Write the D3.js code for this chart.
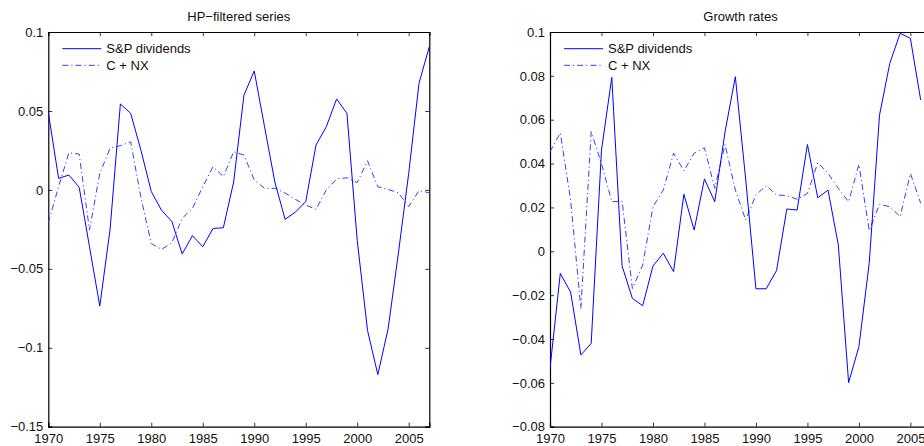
<!DOCTYPE html>
<html><head><meta charset="utf-8">
<script src="https://cdn.jsdelivr.net/npm/d3@7"></script>
<style>body{margin:0;background:#fff;}svg{display:block;font-family:"Liberation Sans",Arial,Helvetica,sans-serif;}</style>
</head><body><svg id="c" width="924" height="446"></svg>
<script>
const yearsHP = d3.range(1970, 2008);
const hpDividends = [0.049,0.0073,0.0094,0.0016,-0.036,-0.0736,-0.025,0.0544,0.0485,0.025,-0.001,-0.013,-0.020,-0.0406,-0.029,-0.036,-0.0244,-0.024,0.005,0.060,0.0753,0.040,0.005,-0.0187,-0.014,-0.0075,0.0284,0.040,0.0576,0.0485,-0.032,-0.089,-0.117,-0.088,-0.040,0.0105,0.0675,0.0907];
const hpCNX = [-0.0208,0.002,0.0235,0.0227,-0.0254,0.0105,0.0263,0.028,0.0305,-0.005,-0.034,-0.0377,-0.0335,-0.018,-0.0117,0.002,0.0147,0.0084,0.0242,0.022,0.0063,0.001,0.001,-0.002,-0.006,-0.0096,-0.0123,0.0,0.0069,0.0077,0.0046,0.0185,0.002,0.0003,-0.0018,-0.0106,-0.0005,-0.0018];
const yearsGR = d3.range(1970, 2007);
const grDividends = [-0.0534,-0.0101,-0.0186,-0.0473,-0.042,0.0461,0.0793,-0.0067,-0.0215,-0.0248,-0.0067,-0.0009,-0.0093,0.026,0.0097,0.033,0.0226,0.0545,0.0796,0.033,-0.0171,-0.0171,-0.0088,0.0193,0.0188,0.0487,0.0244,0.0279,0.0029,-0.0599,-0.0435,-0.0055,0.0621,0.0857,0.0994,0.0971,0.069];
const grCNX = [0.0454,0.054,0.0234,-0.026,0.0545,0.040,0.0226,0.0229,-0.017,-0.0063,0.0203,0.0279,0.0447,0.0367,0.0447,0.0472,0.0287,0.0487,0.0279,0.0143,0.0257,0.0299,0.0257,0.0254,0.0237,0.0264,0.0404,0.0355,0.0287,0.0226,0.0396,0.0094,0.0214,0.0203,0.0158,0.0355,0.0219];
const xTicks = [1970,1975,1980,1985,1990,1995,2000,2005];
const hpYTicks = [0.1,0.05,0,-0.05,-0.1,-0.15];
const grYTicks = [0.1,0.08,0.06,0.04,0.02,0,-0.02,-0.04,-0.06,-0.08];
const legendLabels = ["S&P dividends","C + NX"];
const titles = ["HP\u2212filtered series","Growth rates"];

const svg = d3.select("#c");
const fmt = v => (v < 0 ? "\u2212" : "") + String(+Math.abs(v).toFixed(3));
const FS = "13px";

function panel(left, title, years, s1, s2, yDomain, yTicks, id) {
  const top = 32, bottom = 426.7, right = left + 381;
  const x = d3.scaleLinear().domain([1970, 2007]).range([left, right]);
  const y = d3.scaleLinear().domain(yDomain).range([bottom, top]);
  const g = svg.append("g");
  g.append("clipPath").attr("id", id).append("rect")
    .attr("x", left).attr("y", top).attr("width", right - left).attr("height", bottom - top);
  const ax = g.append("g").attr("transform", `translate(0,${bottom})`)
    .call(d3.axisBottom(x).tickValues(xTicks).tickFormat(d3.format("d")).tickSize(-4));
  const axT = g.append("g").attr("transform", `translate(0,${top})`)
    .call(d3.axisTop(x).tickValues(xTicks).tickFormat("").tickSize(-4));
  const ay = g.append("g").attr("transform", `translate(${left},0)`)
    .call(d3.axisLeft(y).tickValues(yTicks).tickFormat(fmt).tickSize(-4).tickPadding(5));
  const ayR = g.append("g").attr("transform", `translate(${right},0)`)
    .call(d3.axisRight(y).tickValues(yTicks).tickFormat("").tickSize(-4));
  [ax, axT, ay, ayR].forEach(a => {
    a.selectAll(".domain").attr("stroke", "#000").attr("stroke-width", 1.2);
    a.selectAll(".tick line").attr("stroke", "#000").attr("stroke-width", 0.8);
    a.selectAll("text").attr("fill", "#111").style("font-size", FS);
  });
  ax.selectAll("text").attr("y", 16.3).attr("dy", null);
  g.append("text").attr("x", (left + right) / 2).attr("y", 21).attr("text-anchor", "middle")
    .style("font-size", FS).attr("fill", "#111").text(title);
  const line = d3.line().x((d, i) => x(years[i])).y(d => y(d));
  const lines = g.append("g").attr("clip-path", `url(#${id})`);
  lines.append("path").datum(s2).attr("d", line).attr("fill", "none")
    .attr("stroke", "#3a3aff").attr("stroke-width", 1).attr("stroke-dasharray", "6,3,1.2,3");
  lines.append("path").datum(s1).attr("d", line).attr("fill", "none")
    .attr("stroke", "#0000ff").attr("stroke-width", 1);
  const lx = left + 14;
  const lg = g.append("g");
  lg.append("line").attr("x1", lx).attr("x2", lx + 39).attr("y1", 48.7).attr("y2", 48.7)
    .attr("stroke", "#0000ff").attr("stroke-width", 1);
  lg.append("line").attr("x1", lx).attr("x2", lx + 39).attr("y1", 65.3).attr("y2", 65.3)
    .attr("stroke", "#3a3aff").attr("stroke-width", 1).attr("stroke-dasharray", "6,3,1.2,3");
  legendLabels.forEach((t, i) => {
    lg.append("text").attr("x", lx + 44).attr("y", 48.7 + i * 16.6).attr("dy", "0.35em")
      .style("font-size", FS).attr("fill", "#111").text(t);
  });
}
panel(48.3, titles[0], yearsHP, hpDividends, hpCNX, [-0.15, 0.1], hpYTicks, "clip1");
panel(550, titles[1], yearsGR, grDividends, grCNX, [-0.08, 0.1], grYTicks, "clip2");
</script></body></html>
